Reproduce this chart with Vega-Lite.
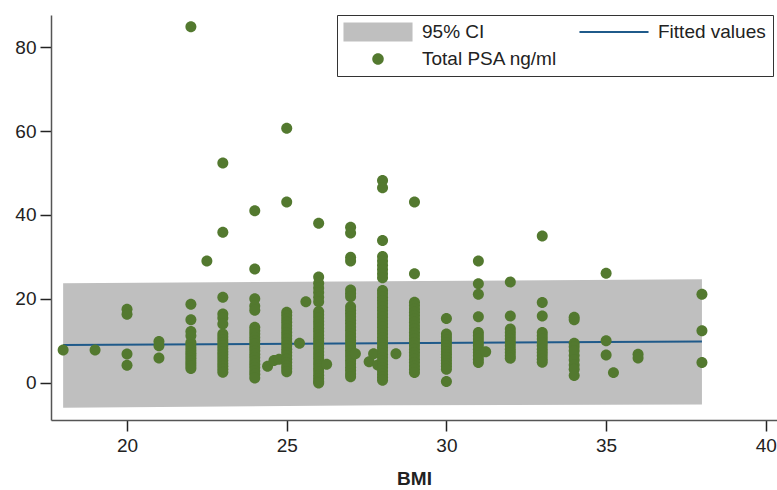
{
  "$schema": "https://vega.github.io/schema/vega-lite/v6.json",
  "width": 726,
  "height": 405,
  "autosize": {"type": "none"},
  "padding": {"left": 51, "top": 15, "right": 0, "bottom": 70},
  "background": "white",
  "config": {
    "view": {"stroke": null},
    "font": "Liberation Sans",
    "axis": {
      "grid": false,
      "domainColor": "#555555",
      "domainWidth": 1.5,
      "tickColor": "#222222",
      "tickWidth": 1.5,
      "tickSize": 11,
      "labelFont": "Liberation Sans",
      "labelFontSize": 19,
      "labelColor": "#222222",
      "titleFont": "Liberation Sans",
      "titleColor": "#222222"
    },
    "legend": {
      "title": null,
      "orient": "none",
      "direction": "horizontal",
      "legendX": 286,
      "legendY": 0,
      "columns": 2,
      "columnPadding": 21,
      "rowPadding": 7,
      "padding": 7,
      "strokeColor": "#333333",
      "fillColor": "white",
      "labelFont": "Liberation Sans",
      "labelFontSize": 19,
      "labelColor": "#222222",
      "labelOffset": 34,
      "symbolOffset": 24,
      "symbolSize": 368,
      "symbolStrokeWidth": 0
    }
  },
  "datasets": {
    "ci": [
      {"bmi": 18, "lo": -6.0, "hi": 23.7, "fit": 9.0},
      {"bmi": 28, "lo": -5.4, "hi": 24.2, "fit": 9.4},
      {"bmi": 38, "lo": -5.2, "hi": 24.7, "fit": 9.8}
    ],
    "psa": [
      {"bmi": 18, "psa": 7.8},
      {"bmi": 19, "psa": 7.8},
      {"bmi": 20, "psa": 17.5}, {"bmi": 20, "psa": 16.3}, {"bmi": 20, "psa": 6.85}, {"bmi": 20, "psa": 4.15},
      {"bmi": 21, "psa": 9.8}, {"bmi": 21, "psa": 8.8}, {"bmi": 21, "psa": 5.9},
      {"bmi": 22, "psa": 84.9}, {"bmi": 22, "psa": 18.7}, {"bmi": 22, "psa": 15.0}, {"bmi": 22, "psa": 12.2}, {"bmi": 22, "psa": 11.2}, {"bmi": 22, "psa": 9.6}, {"bmi": 22, "psa": 9.0}, {"bmi": 22, "psa": 8.3}, {"bmi": 22, "psa": 7.6}, {"bmi": 22, "psa": 7.0}, {"bmi": 22, "psa": 6.4}, {"bmi": 22, "psa": 5.8}, {"bmi": 22, "psa": 5.2}, {"bmi": 22, "psa": 4.6}, {"bmi": 22, "psa": 4.0}, {"bmi": 22, "psa": 3.4},
      {"bmi": 22.5, "psa": 29.0},
      {"bmi": 23, "psa": 52.4}, {"bmi": 23, "psa": 35.9}, {"bmi": 23, "psa": 20.4}, {"bmi": 23, "psa": 16.4}, {"bmi": 23, "psa": 15.4}, {"bmi": 23, "psa": 14.0}, {"bmi": 23, "psa": 11.6}, {"bmi": 23, "psa": 10.9}, {"bmi": 23, "psa": 10.2}, {"bmi": 23, "psa": 9.5}, {"bmi": 23, "psa": 8.8}, {"bmi": 23, "psa": 8.1}, {"bmi": 23, "psa": 7.4}, {"bmi": 23, "psa": 6.7}, {"bmi": 23, "psa": 6.0}, {"bmi": 23, "psa": 5.3}, {"bmi": 23, "psa": 4.6}, {"bmi": 23, "psa": 3.9}, {"bmi": 23, "psa": 3.2}, {"bmi": 23, "psa": 2.5},
      {"bmi": 24, "psa": 41.0}, {"bmi": 24, "psa": 27.1}, {"bmi": 24, "psa": 20.0}, {"bmi": 24, "psa": 18.3}, {"bmi": 24, "psa": 17.3}, {"bmi": 24, "psa": 13.2}, {"bmi": 24, "psa": 12.4}, {"bmi": 24, "psa": 11.6}, {"bmi": 24, "psa": 10.8}, {"bmi": 24, "psa": 10.0}, {"bmi": 24, "psa": 9.2}, {"bmi": 24, "psa": 8.4}, {"bmi": 24, "psa": 7.6}, {"bmi": 24, "psa": 6.8}, {"bmi": 24, "psa": 6.0}, {"bmi": 24, "psa": 5.2}, {"bmi": 24, "psa": 4.4}, {"bmi": 24, "psa": 3.6}, {"bmi": 24, "psa": 2.8}, {"bmi": 24, "psa": 2.0}, {"bmi": 24, "psa": 1.1},
      {"bmi": 24.4, "psa": 3.9}, {"bmi": 24.6, "psa": 5.3}, {"bmi": 24.76, "psa": 5.6},
      {"bmi": 25, "psa": 60.7}, {"bmi": 25, "psa": 43.1}, {"bmi": 25, "psa": 16.8}, {"bmi": 25, "psa": 16.0}, {"bmi": 25, "psa": 15.2}, {"bmi": 25, "psa": 14.4}, {"bmi": 25, "psa": 13.6}, {"bmi": 25, "psa": 12.8}, {"bmi": 25, "psa": 12.0}, {"bmi": 25, "psa": 11.2}, {"bmi": 25, "psa": 10.4}, {"bmi": 25, "psa": 9.6}, {"bmi": 25, "psa": 8.8}, {"bmi": 25, "psa": 8.0}, {"bmi": 25, "psa": 7.2}, {"bmi": 25, "psa": 6.4}, {"bmi": 25, "psa": 5.6}, {"bmi": 25, "psa": 4.8}, {"bmi": 25, "psa": 4.0}, {"bmi": 25, "psa": 3.3}, {"bmi": 25, "psa": 2.6},
      {"bmi": 25.4, "psa": 9.4}, {"bmi": 25.6, "psa": 19.3},
      {"bmi": 26, "psa": 38.0}, {"bmi": 26, "psa": 25.2}, {"bmi": 26, "psa": 23.7}, {"bmi": 26, "psa": 22.6}, {"bmi": 26, "psa": 21.5}, {"bmi": 26, "psa": 20.4}, {"bmi": 26, "psa": 19.3}, {"bmi": 26, "psa": 17.0}, {"bmi": 26, "psa": 16.2}, {"bmi": 26, "psa": 15.4}, {"bmi": 26, "psa": 14.6}, {"bmi": 26, "psa": 13.8}, {"bmi": 26, "psa": 13.0}, {"bmi": 26, "psa": 12.2}, {"bmi": 26, "psa": 11.4}, {"bmi": 26, "psa": 10.6}, {"bmi": 26, "psa": 9.8}, {"bmi": 26, "psa": 9.0}, {"bmi": 26, "psa": 8.2}, {"bmi": 26, "psa": 7.4}, {"bmi": 26, "psa": 6.6}, {"bmi": 26, "psa": 5.8}, {"bmi": 26, "psa": 5.0}, {"bmi": 26, "psa": 4.2}, {"bmi": 26, "psa": 3.4}, {"bmi": 26, "psa": 2.6}, {"bmi": 26, "psa": 1.8}, {"bmi": 26, "psa": 1.0}, {"bmi": 26, "psa": 0.3}, {"bmi": 26, "psa": -0.1},
      {"bmi": 26.25, "psa": 4.4},
      {"bmi": 27, "psa": 37.1}, {"bmi": 27, "psa": 35.7}, {"bmi": 27, "psa": 29.9}, {"bmi": 27, "psa": 29.0}, {"bmi": 27, "psa": 22.1}, {"bmi": 27, "psa": 21.3}, {"bmi": 27, "psa": 20.5}, {"bmi": 27, "psa": 18.1}, {"bmi": 27, "psa": 17.3}, {"bmi": 27, "psa": 16.5}, {"bmi": 27, "psa": 15.7}, {"bmi": 27, "psa": 14.9}, {"bmi": 27, "psa": 14.1}, {"bmi": 27, "psa": 13.3}, {"bmi": 27, "psa": 12.5}, {"bmi": 27, "psa": 11.7}, {"bmi": 27, "psa": 10.9}, {"bmi": 27, "psa": 10.1}, {"bmi": 27, "psa": 9.3}, {"bmi": 27, "psa": 8.5}, {"bmi": 27, "psa": 7.7}, {"bmi": 27, "psa": 6.9}, {"bmi": 27, "psa": 6.1}, {"bmi": 27, "psa": 5.3}, {"bmi": 27, "psa": 4.5}, {"bmi": 27, "psa": 3.7}, {"bmi": 27, "psa": 2.9}, {"bmi": 27, "psa": 2.1}, {"bmi": 27, "psa": 1.4},
      {"bmi": 27.15, "psa": 6.9},
      {"bmi": 27.58, "psa": 5.0}, {"bmi": 27.72, "psa": 6.9}, {"bmi": 27.85, "psa": 4.2},
      {"bmi": 28, "psa": 48.2}, {"bmi": 28, "psa": 46.5}, {"bmi": 28, "psa": 33.9}, {"bmi": 28, "psa": 30.1}, {"bmi": 28, "psa": 29.0}, {"bmi": 28, "psa": 28.0}, {"bmi": 28, "psa": 27.0}, {"bmi": 28, "psa": 26.0}, {"bmi": 28, "psa": 25.0}, {"bmi": 28, "psa": 22.0}, {"bmi": 28, "psa": 21.2}, {"bmi": 28, "psa": 20.4}, {"bmi": 28, "psa": 19.6}, {"bmi": 28, "psa": 18.8}, {"bmi": 28, "psa": 18.0}, {"bmi": 28, "psa": 17.2}, {"bmi": 28, "psa": 16.4}, {"bmi": 28, "psa": 15.6}, {"bmi": 28, "psa": 14.8}, {"bmi": 28, "psa": 14.0}, {"bmi": 28, "psa": 13.2}, {"bmi": 28, "psa": 12.4}, {"bmi": 28, "psa": 11.6}, {"bmi": 28, "psa": 10.8}, {"bmi": 28, "psa": 10.0}, {"bmi": 28, "psa": 9.2}, {"bmi": 28, "psa": 8.4}, {"bmi": 28, "psa": 7.6}, {"bmi": 28, "psa": 6.8}, {"bmi": 28, "psa": 6.0}, {"bmi": 28, "psa": 5.2}, {"bmi": 28, "psa": 4.4}, {"bmi": 28, "psa": 3.6}, {"bmi": 28, "psa": 2.8}, {"bmi": 28, "psa": 2.0}, {"bmi": 28, "psa": 1.3}, {"bmi": 28, "psa": 0.6},
      {"bmi": 28.42, "psa": 6.9},
      {"bmi": 29, "psa": 43.1}, {"bmi": 29, "psa": 26.0}, {"bmi": 29, "psa": 19.2}, {"bmi": 29, "psa": 18.4}, {"bmi": 29, "psa": 17.6}, {"bmi": 29, "psa": 16.8}, {"bmi": 29, "psa": 16.0}, {"bmi": 29, "psa": 15.2}, {"bmi": 29, "psa": 14.4}, {"bmi": 29, "psa": 13.6}, {"bmi": 29, "psa": 12.8}, {"bmi": 29, "psa": 12.0}, {"bmi": 29, "psa": 11.2}, {"bmi": 29, "psa": 10.4}, {"bmi": 29, "psa": 9.6}, {"bmi": 29, "psa": 8.8}, {"bmi": 29, "psa": 8.0}, {"bmi": 29, "psa": 7.2}, {"bmi": 29, "psa": 6.4}, {"bmi": 29, "psa": 5.6}, {"bmi": 29, "psa": 4.8}, {"bmi": 29, "psa": 4.0}, {"bmi": 29, "psa": 3.2}, {"bmi": 29, "psa": 2.4},
      {"bmi": 30, "psa": 15.3}, {"bmi": 30, "psa": 11.6}, {"bmi": 30, "psa": 10.9}, {"bmi": 30, "psa": 10.2}, {"bmi": 30, "psa": 9.5}, {"bmi": 30, "psa": 8.8}, {"bmi": 30, "psa": 8.1}, {"bmi": 30, "psa": 7.4}, {"bmi": 30, "psa": 6.7}, {"bmi": 30, "psa": 6.0}, {"bmi": 30, "psa": 5.3}, {"bmi": 30, "psa": 4.6}, {"bmi": 30, "psa": 3.9}, {"bmi": 30, "psa": 3.2}, {"bmi": 30, "psa": 0.3},
      {"bmi": 31, "psa": 29.0}, {"bmi": 31, "psa": 23.6}, {"bmi": 31, "psa": 21.1}, {"bmi": 31, "psa": 15.7}, {"bmi": 31, "psa": 12.0}, {"bmi": 31, "psa": 11.2}, {"bmi": 31, "psa": 10.4}, {"bmi": 31, "psa": 9.6}, {"bmi": 31, "psa": 8.8}, {"bmi": 31, "psa": 8.0}, {"bmi": 31, "psa": 7.2}, {"bmi": 31, "psa": 6.4}, {"bmi": 31, "psa": 5.6}, {"bmi": 31, "psa": 4.8},
      {"bmi": 31.23, "psa": 7.4},
      {"bmi": 32, "psa": 24.0}, {"bmi": 32, "psa": 15.9}, {"bmi": 32, "psa": 12.8}, {"bmi": 32, "psa": 12.0}, {"bmi": 32, "psa": 11.2}, {"bmi": 32, "psa": 10.4}, {"bmi": 32, "psa": 9.6}, {"bmi": 32, "psa": 8.8}, {"bmi": 32, "psa": 8.0}, {"bmi": 32, "psa": 7.2}, {"bmi": 32, "psa": 6.4}, {"bmi": 32, "psa": 5.8},
      {"bmi": 33, "psa": 35.0}, {"bmi": 33, "psa": 19.1}, {"bmi": 33, "psa": 15.9}, {"bmi": 33, "psa": 12.0}, {"bmi": 33, "psa": 11.2}, {"bmi": 33, "psa": 10.4}, {"bmi": 33, "psa": 9.6}, {"bmi": 33, "psa": 8.8}, {"bmi": 33, "psa": 8.0}, {"bmi": 33, "psa": 7.2}, {"bmi": 33, "psa": 6.4}, {"bmi": 33, "psa": 5.6}, {"bmi": 33, "psa": 4.9},
      {"bmi": 34, "psa": 15.6}, {"bmi": 34, "psa": 15.0}, {"bmi": 34, "psa": 9.4}, {"bmi": 34, "psa": 8.6}, {"bmi": 34, "psa": 7.6}, {"bmi": 34, "psa": 6.5}, {"bmi": 34, "psa": 5.4}, {"bmi": 34, "psa": 4.2}, {"bmi": 34, "psa": 3.2}, {"bmi": 34, "psa": 1.7},
      {"bmi": 35, "psa": 26.1}, {"bmi": 35, "psa": 10.0}, {"bmi": 35, "psa": 6.6},
      {"bmi": 35.23, "psa": 2.4},
      {"bmi": 36, "psa": 6.8}, {"bmi": 36, "psa": 5.9},
      {"bmi": 38, "psa": 21.1}, {"bmi": 38, "psa": 12.4}, {"bmi": 38, "psa": 4.8}
    ]
  },
  "layer": [
    {
      "data": {"name": "ci"},
      "mark": {"type": "area", "color": "#bfbfbf", "opacity": 1},
      "encoding": {
        "x": {"field": "bmi", "type": "quantitative", "scale": {"domain": [17.62, 40.35], "nice": false, "zero": false},
          "axis": {"values": [20, 25, 30, 35, 40], "title": "BMI", "titleFontSize": 19, "titleFontWeight": "bold", "titlePadding": 14, "labelPadding": 5}},
        "y": {"field": "lo", "type": "quantitative", "scale": {"domain": [-8.9, 87.7], "nice": false, "zero": false},
          "axis": {"values": [0, 20, 40, 60, 80], "title": null, "labelPadding": 4}},
        "y2": {"field": "hi"}
      }
    },
    {
      "data": {"name": "ci"},
      "mark": {"type": "line", "color": "#1f5a8a", "strokeWidth": 2},
      "encoding": {
        "x": {"field": "bmi", "type": "quantitative"},
        "y": {"field": "fit", "type": "quantitative"}
      }
    },
    {
      "data": {"name": "psa"},
      "mark": {"type": "point", "filled": true, "size": 336, "opacity": 1},
      "encoding": {
        "x": {"field": "bmi", "type": "quantitative"},
        "y": {"field": "psa", "type": "quantitative"},
        "color": {
          "datum": "Total PSA ng/ml",
          "type": "nominal",
          "scale": {"domain": ["95% CI", "Fitted values", "Total PSA ng/ml"], "range": ["#bfbfbf", "#1f5a8a", "#53792f"]},
          "legend": {"title": null}
        },
        "shape": {
          "datum": "Total PSA ng/ml",
          "type": "nominal",
          "scale": {"domain": ["95% CI", "Fitted values", "Total PSA ng/ml"], "range": ["M-3.6,-1H3.6V1H-3.6Z", "M-3.6,-0.1H3.6V0.1H-3.6Z", "M-0.6,0A0.6,0.6,0,1,0,0.6,0A0.6,0.6,0,1,0,-0.6,0Z"]},
          "legend": {"title": null}
        }
      }
    }
  ]
}
